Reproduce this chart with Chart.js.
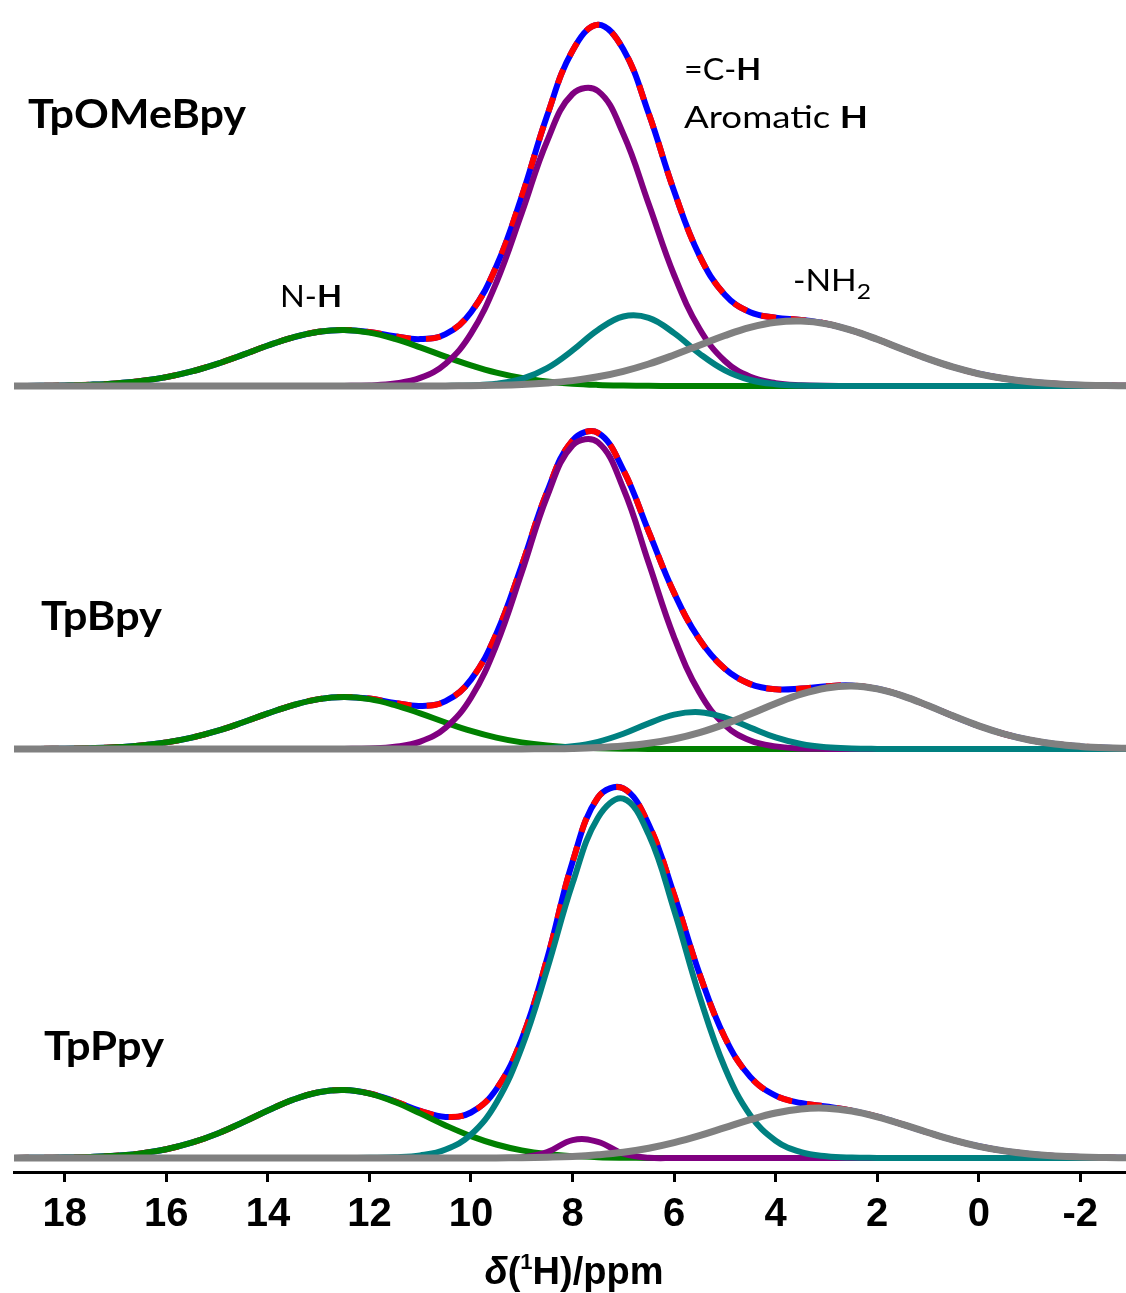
<!DOCTYPE html>
<html>
<head>
<meta charset="utf-8">
<script src="https://cdn.jsdelivr.net/npm/chart.js@4.4.1/dist/chart.umd.min.js"></script>
<style>
    html, body { margin: 0; padding: 0; background: #ffffff; }
    canvas { display: block; }
</style>
</head>
<body>
<canvas id="nmr_chart" width="1126" height="1293"></canvas>
<script>
// chemical shift grid (ppm) shared by all curves
const ppm = [19, 18.5, 18, 17.5, 17, 16.5, 16, 15.5, 15, 14.5, 14, 13.5, 13, 12.5, 12, 11.5, 11, 10.5, 10, 9.5,
    9, 8.5, 8, 7.5, 7, 6.5, 6, 5.5, 5, 4.5, 4, 3.5, 3, 2.5, 2, 1.5, 1, 0.5, 0, -0.5, -1, -1.5, -2, -2.5, -3];
const xTicks = [18, 16, 14, 12, 10, 8, 6, 4, 2, 0, -2];

const panelNames = ["TpOMeBpy", "TpBpy", "TpPpy"];
// baseline of each spectrum on the shared intensity axis
const panelOffsets = [786, 423, 14];

// TpOMeBpy
const omeTotal = [0, 0.2, 0.6, 1.3, 2.6, 5, 8.9, 14.6, 22.2, 31.1, 40.5, 48.7, 54.3, 56.1, 54, 49.7, 46.9, 51.8, 73.8, 119.7,
    189.6, 270.4, 335.3, 361.3, 336.7, 272.4, 194.9, 130.4, 91.2, 73.8, 68.4, 66.1, 62.3, 55.6, 46.7, 36.8, 27.2, 18.8, 12.2, 7.5, 4.3, 2.3, 1.1, 0.5, 0.2];
const omeNH = [0, 0.2, 0.6, 1.3, 2.6, 5, 8.9, 14.6, 22.2, 31.1, 40.5, 48.7, 54.3, 56, 53.4, 47.2, 38.7, 29.3, 20.6, 13.3,
    8, 4.5, 2.3, 1.1, 0.5, 0.2, 0, 0, 0, 0, 0, 0, 0, 0, 0, 0, 0, 0, 0, 0, 0, 0, 0, 0, 0];
const omeCH = [0, 0, 0, 0, 0, 0, 0, 0, 0, 0, 0, 0, 0, 0.1, 0.6, 2.5, 8.1, 22.3, 52.3, 103.5,
    173, 245, 292, 295, 252, 182, 111, 57.2, 25, 9.2, 2.9, 0.8, 0.2, 0, 0, 0, 0, 0, 0, 0, 0, 0, 0, 0, 0];
const omeArH = [0, 0, 0, 0, 0, 0, 0, 0, 0, 0, 0, 0, 0, 0, 0, 0, 0, 0.1, 0.6, 2.2,
    7.1, 17.9, 35.6, 56, 69.5, 68.2, 52.9, 32.4, 15.7, 6, 1.8, 0.4, 0.1, 0, 0, 0, 0, 0, 0, 0, 0, 0, 0, 0, 0];
const omeNH2 = [0, 0, 0, 0, 0, 0, 0, 0, 0, 0, 0, 0, 0, 0, 0, 0, 0.1, 0.1, 0.3, 0.7,
    1.5, 3, 5.4, 9.2, 14.7, 22, 31, 40.8, 50.5, 58.6, 63.7, 64.9, 62.1, 55.6, 46.7, 36.8, 27.2, 18.8, 12.2, 7.5, 4.3, 2.3, 1.1, 0.5, 0.2];

// TpBpy
const bpyTotal = [0, 0.1, 0.3, 0.8, 1.7, 3.5, 6.6, 11.4, 18.1, 26.5, 35.6, 43.9, 49.9, 52.1, 50.4, 46.1, 43, 47.8, 69.4, 115.3,
    183.5, 257.3, 308.6, 316.2, 279, 217.4, 156.1, 109.6, 80.2, 64.9, 59.7, 60.4, 62.8, 63.5, 60.2, 53.2, 43.5, 32.9, 23.1, 15, 9, 5, 2.6, 1.2, 0.5];
const bpyNH = [0, 0.1, 0.3, 0.8, 1.7, 3.5, 6.6, 11.4, 18.1, 26.5, 35.6, 43.9, 49.9, 52, 49.9, 43.9, 35.6, 26.5, 18.1, 11.4,
    6.6, 3.5, 1.7, 0.8, 0.3, 0.1, 0, 0, 0, 0, 0, 0, 0, 0, 0, 0, 0, 0, 0, 0, 0, 0, 0, 0, 0];
const bpyCH = [0, 0, 0, 0, 0, 0, 0, 0, 0, 0, 0, 0, 0, 0.1, 0.5, 2.2, 7.4, 21.3, 51.3, 103.9,
    176.6, 252.7, 303.6, 306.8, 260.5, 186, 111.7, 56.4, 23.9, 8.5, 2.6, 0.6, 0.1, 0, 0, 0, 0, 0, 0, 0, 0, 0, 0, 0, 0];
const bpyArH = [0, 0, 0, 0, 0, 0, 0, 0, 0, 0, 0, 0, 0, 0, 0, 0, 0, 0, 0, 0,
    0.2, 0.8, 2.7, 7.2, 15.2, 25.6, 34.4, 36.8, 31.4, 21.4, 11.6, 5, 1.7, 0.5, 0.1, 0, 0, 0, 0, 0, 0, 0, 0, 0, 0];
const bpyNH2 = [0, 0, 0, 0, 0, 0, 0, 0, 0, 0, 0, 0, 0, 0, 0, 0, 0, 0, 0, 0,
    0.1, 0.3, 0.6, 1.4, 3, 5.7, 10, 16.4, 24.9, 35, 45.5, 54.8, 61, 63, 60.1, 53.2, 43.5, 32.9, 23.1, 15, 9, 5, 2.6, 1.2, 0.5];

// TpPpy
const ppyTotal = [0.1, 0.2, 0.4, 1, 2.2, 4.6, 8.8, 15.3, 24.3, 35.5, 47.5, 58.4, 65.8, 68, 64.6, 56.7, 47.2, 41.1, 45.5, 68.9,
    119, 199.4, 296, 360.5, 369.6, 333.5, 263.2, 184.3, 120.5, 81.1, 62.3, 55, 51.6, 47.4, 41.3, 33.6, 25.5, 17.9, 11.7, 7.1, 4, 2.1, 1, 0.5, 0.2];
const ppyNH = [0.1, 0.2, 0.4, 1, 2.2, 4.6, 8.8, 15.3, 24.3, 35.5, 47.5, 58.4, 65.8, 68, 64.4, 56, 44.6, 32.6, 21.9, 13.5,
    7.6, 3.9, 1.9, 0.8, 0.3, 0.1, 0, 0, 0, 0, 0, 0, 0, 0, 0, 0, 0, 0, 0, 0, 0, 0, 0, 0, 0];
const ppyCH = [0, 0, 0, 0, 0, 0, 0, 0, 0, 0, 0, 0, 0, 0, 0, 0, 0, 0, 0, 0,
    0.5, 5.8, 17.9, 16.2, 4.3, 0.3, 0, 0, 0, 0, 0, 0, 0, 0, 0, 0, 0, 0, 0, 0, 0, 0, 0, 0, 0];
const ppyArH = [0, 0, 0, 0, 0, 0, 0, 0, 0, 0, 0, 0, 0, 0, 0.2, 0.7, 2.6, 8.5, 23.5, 55.3,
    110.6, 188.9, 274.6, 340.3, 359.3, 323.4, 247.9, 162, 90.2, 42.8, 17.3, 5.9, 1.8, 0.4, 0.1, 0, 0, 0, 0, 0, 0, 0, 0, 0, 0];
const ppyNH2 = [0, 0, 0, 0, 0, 0, 0, 0, 0, 0, 0, 0, 0, 0, 0, 0, 0, 0, 0.1, 0.1,
    0.3, 0.8, 1.6, 3.2, 5.7, 9.7, 15.3, 22.3, 30.3, 38.3, 45, 49.1, 49.8, 47, 41.2, 33.6, 25.5, 17.9, 11.7, 7.1, 4, 2.1, 1, 0.5, 0.2];

const panels = [
    { total: omeTotal, nh: omeNH, ch: omeCH, ar: omeArH, nh2: omeNH2 },
    { total: bpyTotal, nh: bpyNH, ch: bpyCH, ar: bpyArH, nh2: bpyNH2 },
    { total: ppyTotal, nh: ppyNH, ch: ppyCH, ar: ppyArH, nh2: ppyNH2 }
];

function toPoints(values, offset) {
    return values.map((v, i) => ({ x: ppm[i], y: v + offset }));
}

function buildDatasets() {
    let sets = [];
    panels.forEach((p, i) => {
        let off = panelOffsets[i];
        sets.push({ label: panelNames[i] + " exp", data: toPoints(p.total, off), borderColor: "#0000ff", borderWidth: 6, order: 6 });
        sets.push({ label: panelNames[i] + " fit", data: toPoints(p.total, off), borderColor: "#ff0000", borderWidth: 6, borderDash: [15, 15], order: 5 });
        sets.push({ label: "N-H", data: toPoints(p.nh, off), borderColor: "#008000", borderWidth: 6, order: 4 });
        sets.push({ label: "=C-H", data: toPoints(p.ch, off), borderColor: "#800080", borderWidth: 6, order: 3 });
        sets.push({ label: "Aromatic H", data: toPoints(p.ar, off), borderColor: "#008080", borderWidth: 6, order: 2 });
        sets.push({ label: "-NH2", data: toPoints(p.nh2, off), borderColor: "#808080", borderWidth: 7, order: 1 });
    });
    return sets;
}

// draws mixed-weight text squeezed to a given width
function drawParts(ctx, parts, x, y, width) {
    let total = 0;
    parts.forEach(pt => {
        ctx.font = pt.font;
        pt.w = ctx.measureText(pt.text).width;
        total += pt.w;
    });
    ctx.save();
    ctx.translate(x, y);
    ctx.scale(width / total, 1);
    let cx = 0;
    parts.forEach(pt => {
        ctx.font = pt.font;
        ctx.fillText(pt.text, cx, pt.dy || 0);
        cx += pt.w;
    });
    ctx.restore();
}

const labelPlugin = {
    id: "labels",
    afterDraw(chart) {
        let ctx = chart.ctx;
        ctx.save();
        ctx.fillStyle = "#000000";
        ctx.textBaseline = "alphabetic";
        ctx.textAlign = "left";
        let big = "bold 40px Lato";
        drawParts(ctx, [{ text: panelNames[0], font: big }], 28, 128, 218);
        drawParts(ctx, [{ text: panelNames[1], font: big }], 41, 630, 121);
        drawParts(ctx, [{ text: panelNames[2], font: big }], 44, 1060, 120);

        let reg = "30px Lato";
        let bold = "bold 30px Lato";
        drawParts(ctx, [{ text: "N-", font: reg }, { text: "H", font: bold }], 280, 307, 62);
        drawParts(ctx, [{ text: "=C-", font: reg }, { text: "H", font: bold }], 684, 80, 77);
        drawParts(ctx, [{ text: "Aromatic ", font: reg }, { text: "H", font: bold }], 684, 128, 184);
        drawParts(ctx, [{ text: "-NH", font: reg }, { text: "2", font: "22px Lato", dy: 8 }], 793, 291, 78);

        // axis title
        let f = "bold 38px 'Liberation Sans', Arial, sans-serif";
        let parts = [
            { text: "δ", font: "italic " + f },
            { text: "(", font: f },
            { text: "1", font: "bold 22px 'Liberation Sans', Arial, sans-serif", dy: -15 },
            { text: "H)/ppm", font: f }
        ];
        let w = 0;
        parts.forEach(pt => { ctx.font = pt.font; w += ctx.measureText(pt.text).width; });
        drawParts(ctx, parts, 574 - w / 2, 1284, w);
        ctx.restore();
    }
};

function createChart() {
    let canvas = document.getElementById("nmr_chart");
    const config = {
        type: "line",
        data: { datasets: buildDatasets() },
        options: {
            responsive: false,
            animation: false,
            layout: { padding: { left: 14, right: 0, top: 0, bottom: 45 } },
            elements: {
                point: { radius: 0 },
                line: { tension: 0.4, fill: false }
            },
            plugins: {
                legend: { display: false },
                tooltip: { enabled: false }
            },
            scales: {
                x: {
                    type: "linear",
                    reverse: true,
                    min: -2.9,
                    max: 19,
                    afterBuildTicks: scale => {
                        scale.ticks = xTicks.map(v => ({ value: v }));
                    },
                    ticks: {
                        color: "#000000",
                        padding: 9,
                        maxRotation: 0,
                        font: { family: "'Liberation Sans', Arial, sans-serif", size: 40, weight: "bold" },
                        callback: v => String(v)
                    },
                    grid: {
                        drawOnChartArea: false,
                        drawTicks: true,
                        tickLength: 10,
                        tickWidth: 3,
                        tickColor: "#000000"
                    },
                    border: { display: true, color: "#000000", width: 3 }
                },
                y: {
                    display: false,
                    min: 0,
                    max: 1172
                }
            }
        },
        plugins: [labelPlugin]
    };
    new Chart(canvas, config);
}

createChart();
</script>
</body>
</html>
